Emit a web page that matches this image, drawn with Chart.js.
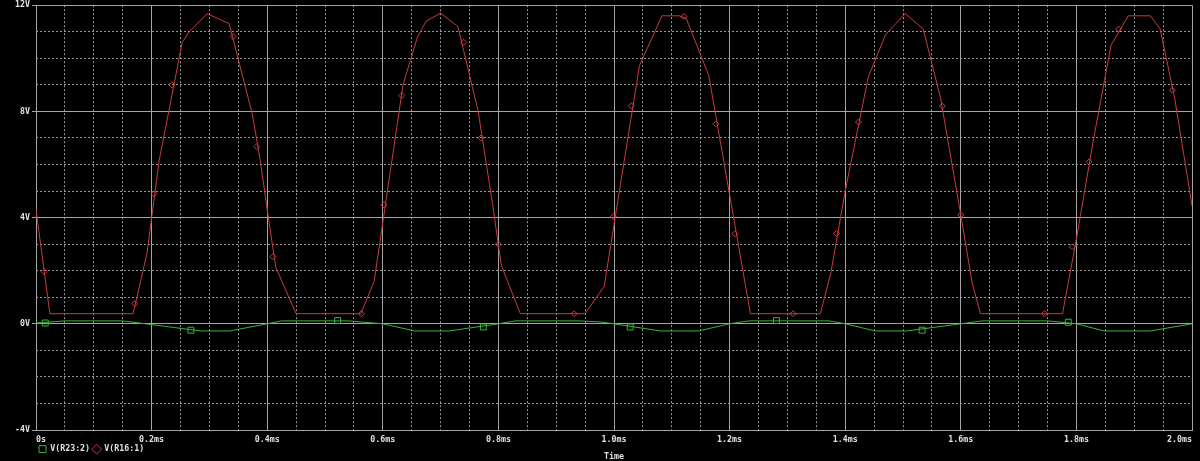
<!DOCTYPE html>
<html>
<head>
<meta charset="utf-8">
<script src="https://cdn.jsdelivr.net/npm/chart.js@4.4.1/dist/chart.umd.min.js"></script>
<style>
  html, body { margin: 0; padding: 0; background: #000; }
  #graphic { display: block; }
</style>
</head>
<body>
<canvas id="graphic" width="1200" height="461"></canvas>
<script>
// trace names, as in the probe window legend
const seriesNames = ['V(R23:2)', 'V(R16:1)'];

// V(R16:1) - time in ms, volts
const redTime = [
  0, 0.024, 0.168, 0.192, 0.213, 0.253, 0.265, 0.296, 0.334, 0.374, 0.388, 0.402, 0.415, 0.450,
  0.562, 0.585, 0.610, 0.635, 0.660, 0.675, 0.700, 0.730, 0.765, 0.790, 0.805, 0.838,
  0.950, 0.983, 1.044, 1.083, 1.113, 1.125, 1.164, 1.236,
  1.357, 1.375, 1.400, 1.440, 1.470, 1.504, 1.535, 1.565, 1.600, 1.620, 1.634,
  1.776, 1.800, 1.830, 1.860, 1.890, 1.928, 1.945, 1.970, 2.0,
];
const redVolts = [
  4.3, 0.38, 0.38, 2.65, 6.14, 10.6, 11.0, 11.68, 11.31, 7.92, 6.15, 4.0, 2.12, 0.38,
  0.38, 1.6, 5.3, 9.0, 10.8, 11.4, 11.7, 11.2, 8.0, 4.5, 2.2, 0.38,
  0.38, 1.41, 9.72, 11.6, 11.6, 11.5, 9.35, 0.38,
  0.38, 1.9, 5.0, 9.3, 10.9, 11.68, 11.1, 8.5, 4.1, 1.5, 0.38,
  0.38, 3.2, 7.0, 10.5, 11.6, 11.6, 11.1, 8.5, 4.45,
];
// diamond markers on V(R16:1)
const redMarkTime = [
  0.014, 0.171, 0.204, 0.235, 0.341, 0.382, 0.410,
  0.563, 0.602, 0.633, 0.740, 0.770, 0.800,
  0.931, 0.999, 1.030, 1.121, 1.176, 1.209,
  1.310, 1.385, 1.423, 1.568, 1.600,
  1.745, 1.793, 1.822, 1.873, 1.966,
];
const redMarkVolts = [
  1.97, 0.76, 4.9, 9.0, 10.82, 6.67, 2.53,
  0.38, 4.48, 8.6, 10.6, 7.0, 3.0,
  0.38, 4.04, 8.21, 11.57, 7.53, 3.39,
  0.38, 3.4, 7.6, 8.2, 4.1,
  0.38, 2.9, 6.1, 11.1, 8.8,
];

// V(R23:2) - time in ms, volts
const greenTime = [
  0, 0.05, 0.15, 0.20, 0.285, 0.335, 0.40, 0.425, 0.54, 0.60, 0.655, 0.715, 0.80, 0.83, 0.94,
  0.976, 1.0, 1.08, 1.146, 1.2, 1.234, 1.372, 1.4, 1.452, 1.506, 1.6, 1.637, 1.75, 1.8, 1.848, 1.928, 2.0,
];
const greenVolts = [
  0.03, 0.11, 0.11, -0.03, -0.27, -0.27, 0.0, 0.11, 0.11, 0.0, -0.27, -0.27, 0.0, 0.11, 0.11,
  0.07, 0.0, -0.27, -0.27, 0.0, 0.11, 0.11, 0.0, -0.27, -0.27, 0.0, 0.11, 0.11, 0.0, -0.27, -0.27, 0.0,
];
// square markers on V(R23:2)
const greenMarkTime = [0.016, 0.268, 0.522, 0.774, 1.028, 1.281, 1.533, 1.786];
const greenMarkVolts = [0.03, -0.24, 0.12, -0.12, -0.12, 0.12, -0.24, 0.06];

const xTickLabels = ['0s', '0.2ms', '0.4ms', '0.6ms', '0.8ms', '1.0ms', '1.2ms', '1.4ms', '1.6ms', '1.8ms', '2.0ms'];
const yTickLabels = ['-4V', '0V', '4V', '8V', '12V'];
const xTitle = 'Time';

const red = '#c83c3c';
const green = '#3cb43c';
const gridMajor = '#a4a4a4';
const gridMinor = '#9a9a9a';
const textColor = '#e0e0e0';
const font = { family: '"DejaVu Sans Mono", monospace', size: 8.3, weight: 'bold' };

const toPoints = (xs, ys) => xs.map((x, i) => ({ x, y: ys[i] }));
const onStep = (v, step) => Math.abs(v / step - Math.round(v / step)) < 1e-6;

const ctx = document.querySelector('#graphic').getContext('2d');
const graphic = new Chart(ctx, {
  type: 'scatter',
  data: {
    datasets: [
      {
        label: seriesNames[0],
        data: toPoints(greenTime, greenVolts),
        showLine: true,
        borderColor: green,
        backgroundColor: 'transparent',
        borderWidth: 1,
        pointRadius: 0,
        pointStyle: 'rect',
      },
      {
        label: seriesNames[1],
        data: toPoints(redTime, redVolts),
        showLine: true,
        borderColor: red,
        backgroundColor: 'transparent',
        borderWidth: 1,
        pointRadius: 0,
        pointStyle: 'rectRot',
      },
      {
        label: 'marks-green',
        data: toPoints(greenMarkTime, greenMarkVolts),
        showLine: false,
        pointStyle: 'rect',
        pointRadius: 4.2,
        pointBorderColor: green,
        pointBackgroundColor: 'transparent',
        pointBorderWidth: 1,
      },
      {
        label: 'marks-red',
        data: toPoints(redMarkTime, redMarkVolts),
        showLine: false,
        pointStyle: 'rectRot',
        pointRadius: 3,
        pointBorderColor: red,
        pointBackgroundColor: 'transparent',
        pointBorderWidth: 1,
      },
    ],
  },
  options: {
    responsive: false,
    animation: false,
    layout: { padding: { top: 5, right: 8, left: 0, bottom: 0 } },
    plugins: {
      tooltip: { enabled: false },
      legend: {
        position: 'bottom',
        align: 'start',
        fullSize: false,
        maxHeight: 19,
        labels: {
          usePointStyle: true,
          boxWidth: 7,
          boxHeight: 7,
          padding: 3,
          color: textColor,
          font,
          filter: (item) => item.datasetIndex < 2,
        },
      },
    },
    scales: {
      x: {
        type: 'linear',
        position: 'bottom',
        min: 0,
        max: 2,
        afterFit: (s) => { s.height = 12; s.paddingLeft = 0; s.paddingRight = 0; },
        ticks: {
          stepSize: 0.2,
          autoSkip: false,
          maxRotation: 0,
          align: 'inner',
          padding: 5,
          color: textColor,
          font,
          callback: (v, i) => xTickLabels[i],
        },
        grid: { color: gridMajor, drawTicks: false },
        border: { color: gridMajor },
        // negative bottom padding drops the title beside the legend row
        title: { display: true, text: xTitle, color: textColor, font, padding: { top: 0, bottom: -20 } },
      },
      xMinor: {
        type: 'linear',
        position: 'bottom',
        min: 0,
        max: 2,
        afterFit: (s) => { s.height = 0; s.paddingLeft = 0; s.paddingRight = 0; },
        ticks: { display: false, stepSize: 0.05 },
        grid: {
          color: (c) => (onStep(c.tick.value, 0.2) ? 'transparent' : gridMinor),
          drawTicks: false,
          borderDash: [2, 2],
        },
        border: { display: false, dash: [2, 2] },
      },
      y: {
        type: 'linear',
        position: 'left',
        min: -4,
        max: 12,
        afterFit: (s) => { s.width = 36; s.paddingTop = 0; s.paddingBottom = 0; },
        ticks: {
          stepSize: 4,
          autoSkip: false,
          padding: 2,
          color: textColor,
          font,
          callback: (v, i) => yTickLabels[i],
        },
        grid: { color: gridMajor, tickLength: 4, tickColor: gridMajor },
        border: { color: gridMajor },
      },
      yMinor: {
        type: 'linear',
        position: 'left',
        min: -4,
        max: 12,
        afterFit: (s) => { s.width = 0; s.paddingTop = 0; s.paddingBottom = 0; },
        ticks: { display: false, stepSize: 1 },
        grid: {
          color: (c) => (onStep(c.tick.value, 4) ? 'transparent' : gridMinor),
          drawTicks: false,
          borderDash: [2, 2],
        },
        border: { display: false, dash: [2, 2] },
      },
    },
  },
});
graphic.render();
</script>
</body>
</html>
